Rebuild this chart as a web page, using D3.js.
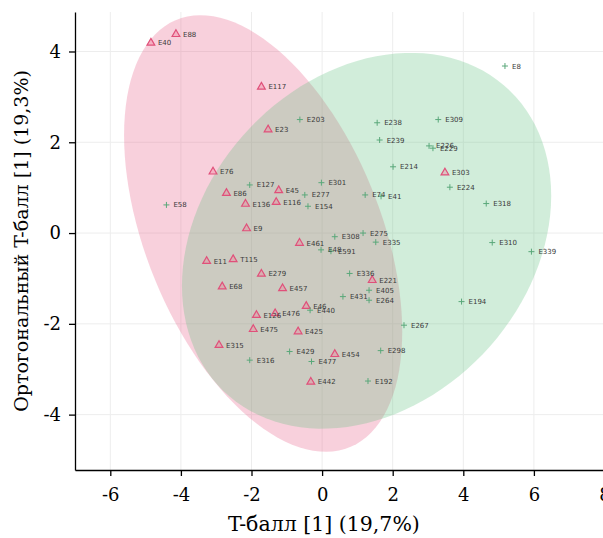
<!DOCTYPE html>
<html>
<head>
<meta charset="utf-8">
<script src="https://cdn.jsdelivr.net/npm/d3@7"></script>
<style>
  body { margin: 0; background: #fff; }
  .axis text { font-family: "DejaVu Serif", serif; font-size: 18px; fill: #000; }
  .title { font-family: "DejaVu Serif", serif; fill: #000; }
  .lbl { font-family: "DejaVu Sans", sans-serif; font-size: 7px; fill: #3a3a3a; }
</style>
</head>
<body>
<svg id="chart"></svg>
<script>
// group 1 (red triangles)
var triNames = ["E40", "E88", "E117", "E23", "E76", "E86", "E45", "E136", "E116", "E9",
    "E461", "E11", "T115", "E279", "E221", "E68", "E457", "E126", "E476", "E46",
    "E475", "E425", "E315", "E454", "E442", "E303"];
var triX = [-4.85, -4.14, -1.72, -1.53, -3.09, -2.71, -1.23, -2.17, -1.30, -2.14,
    -0.64, -3.27, -2.52, -1.72, 1.42, -2.83, -1.12, -1.86, -1.33, -0.45,
    -1.95, -0.68, -2.92, 0.36, -0.32, 3.48];
var triY = [4.19, 4.38, 3.22, 2.28, 1.35, 0.88, 0.94, 0.64, 0.68, 0.10,
    -0.22, -0.62, -0.58, -0.90, -1.04, -1.18, -1.22, -1.81, -1.77, -1.61,
    -2.12, -2.17, -2.47, -2.67, -3.28, 1.33];

// group 2 (green crosses)
var plusNames = ["E203", "E8", "E238", "E309", "E239", "E226", "E229", "E214", "E224", "E301",
    "E127", "E277", "E74", "E41", "E154", "E58", "E318", "E308", "E275", "E335",
    "E48", "E591", "E310", "E339", "E336", "E431", "E405", "E264", "E194", "E440",
    "E267", "E429", "E298", "E316", "E477", "E192"];
var plusX = [-0.63, 5.18, 1.56, 3.29, 1.63, 3.03, 3.14, 2.01, 3.62, -0.02,
    -2.05, -0.49, 1.22, 1.67, -0.40, -4.41, 4.65, 0.36, 1.16, 1.52,
    -0.03, 0.25, 4.82, 5.93, 0.78, 0.59, 1.33, 1.33, 3.95, -0.34,
    2.32, -0.92, 1.66, -2.05, -0.30, 1.30];
var plusY = [2.50, 3.68, 2.43, 2.50, 2.05, 1.92, 1.87, 1.46, 1.01, 1.11,
    1.06, 0.84, 0.84, 0.81, 0.59, 0.62, 0.65, -0.08, 0.00, -0.20,
    -0.37, -0.40, -0.21, -0.41, -0.89, -1.40, -1.26, -1.48, -1.51, -1.70,
    -2.03, -2.61, -2.59, -2.80, -2.83, -3.26];

// confidence ellipses: centre, half extents, correlation
var ellCx = [-1.67, 1.26];
var ellCy = [-0.01, -0.17];
var ellW = [3.94, 5.23];
var ellH = [4.81, 4.14];
var ellRho = [-0.45, 0.24];
var ellColor = ["#e8648b", "#62c080"];
var ellOpacity = [0.3, 0.29];

var xTicks = [-6, -4, -2, 0, 2, 4, 6, 8];
var yTicks = [-4, -2, 0, 2, 4];

var width = 603, height = 538;
var mLeft = 75, mTop = 12, mBottom = 470;

var svg = d3.select("#chart").attr("width", width).attr("height", height);

var x = d3.scaleLinear().domain([-7, 8.6]).range([mLeft, mLeft + 15.6 * 35.3]);
var y = d3.scaleLinear().domain([-5.22, 4.87]).range([mBottom, mTop]);

svg.append("clipPath").attr("id", "plotclip")
    .append("rect").attr("x", mLeft).attr("y", mTop)
    .attr("width", width - mLeft).attr("height", mBottom - mTop);

// grid
var grid = svg.append("g");
grid.selectAll(".gx").data(xTicks).enter().append("line")
    .attr("x1", function(d) { return x(d); }).attr("x2", function(d) { return x(d); })
    .attr("y1", mTop).attr("y2", mBottom)
    .attr("stroke", "#ededed").attr("stroke-width", 1);
grid.selectAll(".gy").data(yTicks).enter().append("line")
    .attr("x1", mLeft).attr("x2", width)
    .attr("y1", function(d) { return y(d); }).attr("y2", function(d) { return y(d); })
    .attr("stroke", "#ededed").attr("stroke-width", 1);

// ellipses
var plot = svg.append("g").attr("clip-path", "url(#plotclip)");
var line = d3.line().curve(d3.curveLinearClosed);
for (var e = 0; e < ellCx.length; e++) {
    var pts = [];
    var delta = Math.acos(ellRho[e]);
    for (var k = 0; k < 120; k++) {
        var t = k / 120 * 2 * Math.PI;
        pts.push([x(ellCx[e] + ellW[e] * Math.cos(t)), y(ellCy[e] + ellH[e] * Math.cos(t - delta))]);
    }
    plot.append("path")
        .attr("d", line(pts))
        .attr("fill", ellColor[e])
        .attr("fill-opacity", ellOpacity[e])
        .attr("stroke", "none");
}

// markers
var tri = d3.symbol().type(d3.symbolTriangle).size(26);
plot.selectAll(".tri").data(triNames).enter().append("path")
    .attr("d", tri)
    .attr("transform", function(d, i) { return "translate(" + x(triX[i]) + "," + y(triY[i]) + ")"; })
    .attr("fill", "rgba(240,120,150,0.35)")
    .attr("stroke", "#e0507a").attr("stroke-width", 1.2);

plot.selectAll(".plus").data(plusNames).enter().append("path")
    .attr("d", "M-3,0H3M0,-3V3")
    .attr("transform", function(d, i) { return "translate(" + x(plusX[i]) + "," + y(plusY[i]) + ")"; })
    .attr("stroke", "#5aa87a").attr("stroke-width", 1);

// labels
plot.selectAll(".tl").data(triNames).enter().append("text")
    .attr("class", "lbl")
    .attr("x", function(d, i) { return x(triX[i]) + 7; })
    .attr("y", function(d, i) { return y(triY[i]) + 2.5; })
    .text(function(d) { return d; });
plot.selectAll(".pl").data(plusNames).enter().append("text")
    .attr("class", "lbl")
    .attr("x", function(d, i) { return x(plusX[i]) + 7; })
    .attr("y", function(d, i) { return y(plusY[i]) + 2.5; })
    .text(function(d) { return d; });

// axes
var fmt = function(d) { return String(d); };
var xAxis = d3.axisBottom(x).tickValues(xTicks).tickFormat(fmt).tickSize(6).tickSizeOuter(0).tickPadding(12);
svg.append("g").attr("class", "axis").attr("transform", "translate(0," + mBottom + ")").call(xAxis);
var yAxis = d3.axisLeft(y).tickValues(yTicks).tickFormat(fmt).tickSize(6).tickSizeOuter(0).tickPadding(8);
svg.append("g").attr("class", "axis").attr("transform", "translate(" + mLeft + ",0)").call(yAxis);
svg.selectAll(".axis path, .axis line").attr("stroke", "#000").attr("stroke-width", 1.3);
svg.selectAll(".axis text").attr("font-family", null).attr("font-size", null);

svg.append("text").attr("class", "title")
    .attr("x", 324).attr("y", 531)
    .attr("text-anchor", "middle")
    .attr("font-size", 20.5)
    .text("T-балл [1] (19,7%)");
svg.append("text").attr("class", "title")
    .attr("transform", "translate(28,241) rotate(-90)")
    .attr("text-anchor", "middle")
    .attr("font-size", 19)
    .text("Ортогональный T-балл [1] (19,3%)");
</script>
</body>
</html>
